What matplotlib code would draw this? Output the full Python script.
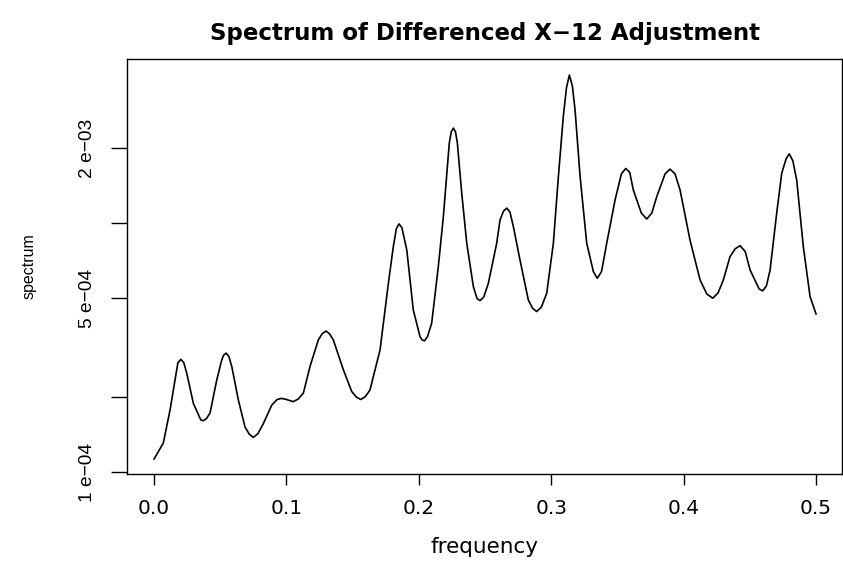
import numpy as np
import matplotlib
matplotlib.use("Agg")
import matplotlib.pyplot as plt

# frecuencias y valores del espectro
frequency = [0.0000, 0.0070, 0.0121, 0.0159, 0.0180, 0.0202, 0.0224, 0.0247, 0.0297,
             0.0347, 0.0355, 0.0372, 0.0395, 0.0423, 0.0474, 0.0511, 0.0525, 0.0544,
             0.0565, 0.0587, 0.0637, 0.0687, 0.0720, 0.0750, 0.0785, 0.0826, 0.0889,
             0.0930, 0.0964, 0.1000, 0.1052, 0.1090, 0.1128, 0.1178, 0.1241, 0.1270,
             0.1299, 0.1325, 0.1354, 0.1430, 0.1493, 0.1530, 0.1561, 0.1595, 0.1631,
             0.1707, 0.1770, 0.1807, 0.1830, 0.1850, 0.1872, 0.1909, 0.1958, 0.2009,
             0.2025, 0.2042, 0.2065, 0.2097, 0.2147, 0.2185, 0.2230, 0.2245, 0.2261,
             0.2277, 0.2291, 0.2324, 0.2362, 0.2412, 0.2440, 0.2462, 0.2490, 0.2525,
             0.2588, 0.2613, 0.2640, 0.2664, 0.2688, 0.2714, 0.2764, 0.2827, 0.2860,
             0.2890, 0.2925, 0.2966, 0.3016, 0.3054, 0.3091, 0.3115, 0.3137, 0.3160,
             0.3180, 0.3218, 0.3268, 0.3318, 0.3348, 0.3380, 0.3419, 0.3482, 0.3530,
             0.3563, 0.3593, 0.3620, 0.3680, 0.3721, 0.3760, 0.3797, 0.3860, 0.3897,
             0.3935, 0.3973, 0.4048, 0.4124, 0.4175, 0.4220, 0.4260, 0.4300, 0.4350,
             0.4390, 0.4426, 0.4465, 0.4502, 0.4570, 0.4597, 0.4625, 0.4653, 0.4703,
             0.4741, 0.4775, 0.4798, 0.4825, 0.4854, 0.4904, 0.4955, 0.5000]
spectrum = [1.13e-4, 1.31e-4, 1.78e-4, 2.35e-4, 2.75e-4, 2.84e-4, 2.76e-4, 2.50e-4, 1.89e-4,
            1.65e-4, 1.62e-4, 1.61e-4, 1.64e-4, 1.73e-4, 2.35e-4, 2.82e-4, 2.95e-4, 3.01e-4,
            2.92e-4, 2.66e-4, 1.95e-4, 1.52e-4, 1.42e-4, 1.38e-4, 1.43e-4, 1.57e-4, 1.86e-4,
            1.96e-4, 1.98e-4, 1.96e-4, 1.92e-4, 1.97e-4, 2.08e-4, 2.66e-4, 3.40e-4, 3.60e-4,
            3.69e-4, 3.60e-4, 3.40e-4, 2.58e-4, 2.11e-4, 2.00e-4, 1.96e-4, 2.01e-4, 2.14e-4,
            3.10e-4, 5.74e-4, 8.05e-4, 9.50e-4, 9.94e-4, 9.60e-4, 7.81e-4, 4.49e-4, 3.50e-4,
            3.40e-4, 3.37e-4, 3.50e-4, 3.97e-4, 6.69e-4, 1.06e-3, 2.10e-3, 2.33e-3, 2.41e-3,
            2.33e-3, 2.10e-3, 1.32e-3, 8.31e-4, 5.56e-4, 4.98e-4, 4.89e-4, 5.05e-4, 5.74e-4,
            8.31e-4, 1.03e-3, 1.12e-3, 1.15e-3, 1.11e-3, 9.69e-4, 7.12e-4, 4.92e-4, 4.55e-4,
            4.42e-4, 4.60e-4, 5.24e-4, 8.31e-4, 1.54e-3, 2.68e-3, 3.50e-3, 3.94e-3, 3.55e-3,
            2.85e-3, 1.54e-3, 8.31e-4, 6.40e-4, 6.01e-4, 6.40e-4, 8.31e-4, 1.24e-3, 1.58e-3,
            1.66e-3, 1.60e-3, 1.36e-3, 1.10e-3, 1.04e-3, 1.10e-3, 1.28e-3, 1.58e-3, 1.65e-3,
            1.58e-3, 1.36e-3, 8.57e-4, 5.92e-4, 5.20e-4, 5.00e-4, 5.25e-4, 5.92e-4, 7.34e-4,
            7.90e-4, 8.13e-4, 7.70e-4, 6.49e-4, 5.45e-4, 5.35e-4, 5.60e-4, 6.49e-4, 1.10e-3,
            1.59e-3, 1.82e-3, 1.90e-3, 1.78e-3, 1.49e-3, 8.05e-4, 5.07e-4, 4.32e-4]

x_ticks = [0.0, 0.1, 0.2, 0.3, 0.4, 0.5]
x_labels = ["0.0", "0.1", "0.2", "0.3", "0.4", "0.5"]
y_ticks = [1e-4, 2e-4, 5e-4, 1e-3, 2e-3]
y_labels = ["1 e\u221204", "", "5 e\u221204", "", "2 e\u221203"]

plt.rcParams['font.family'] = ['Liberation Sans', 'DejaVu Sans']

fig = plt.figure(figsize=(8.43, 5.65), dpi=100)
ax = fig.add_axes([0.1510, 0.1611, 0.8478, 0.7340])

ax.plot(frequency, spectrum, color='black', lw=1.2)
ax.set_yscale('log')
ax.set_xlim(-0.0202, 0.5196)
ax.set_ylim(9.84e-5, 4.557e-3)

ax.set_xticks(x_ticks)
ax.set_xticklabels(x_labels, family=['DejaVu Sans'], fontsize=14.5)
ax.set_yticks(y_ticks)
ax.set_yticklabels(y_labels, rotation=90, va='center', fontsize=13.8)
ax.yaxis.set_minor_locator(matplotlib.ticker.NullLocator())

ax.tick_params(axis='x', length=8, width=1, pad=10)
ax.tick_params(axis='y', length=11.3, width=1, pad=11)
for s in ax.spines.values():
    s.set_linewidth(1)

ax.set_title("Spectrum of Differenced X\u221212 Adjustment", fontsize=16.5,
             fontweight='bold', family=['DejaVu Sans'], pad=14)
ax.set_xlabel("frequency", fontsize=15.5, family=['DejaVu Sans'], labelpad=14)
ax.set_ylabel("spectrum", fontsize=11.5, labelpad=31)

fig.savefig("out.png", dpi=100)
